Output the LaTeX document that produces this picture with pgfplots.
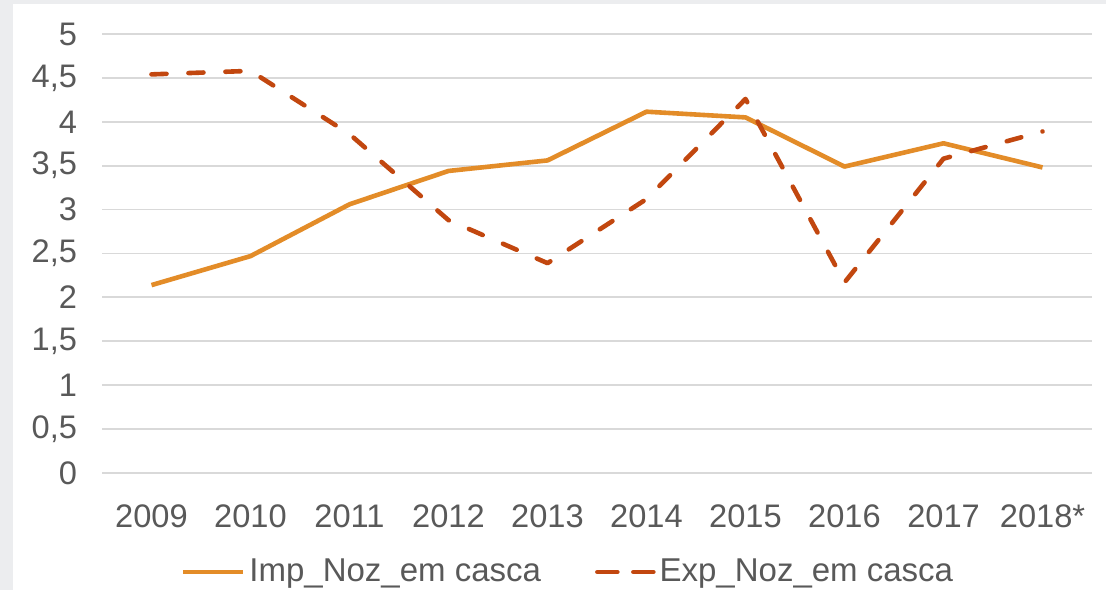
\documentclass[border=0pt]{standalone}
\usepackage{fontspec}
\setmainfont{Liberation Sans}
\usepackage{pgfplots}
\pgfplotsset{compat=1.18}
\definecolor{impc}{HTML}{E38C28}
\definecolor{expc}{HTML}{C2470F}
\definecolor{txt}{HTML}{595959}
\definecolor{grd}{HTML}{D9D9D9}
\definecolor{bgg}{HTML}{ECEDEF}
\pgfplotsset{
  implegend/.style={legend image code/.code={\draw[##1] (0bp,0bp) -- (30bp,0bp);}},
  explegend/.style={legend image code/.code={\draw[##1, dash pattern=on 10bp off 8bp] (2bp,0bp) -- (30bp,0bp);}},
}
\begin{document}
\begin{tikzpicture}
\fill[white] (0,0) rectangle (553bp,295bp);
\fill[bgg] (0,0) rectangle (6.5bp,295bp);
\fill[bgg] (0,293bp) rectangle (553bp,295bp);
\begin{axis}[
  at={(51bp,58.5bp)}, anchor=south west,
  scale only axis, width=495bp, height=219.5bp,
  xmin=-0.5, xmax=9.5, ymin=0, ymax=5,
  xtick={0,1,2,3,4,5,6,7,8,9},
  xticklabels={2009,2010,2011,2012,2013,2014,2015,2016,2017,2018*},
  ytick={0,0.5,1,1.5,2,2.5,3,3.5,4,4.5,5},
  /pgf/number format/assume math mode=true,
  /pgf/number format/use comma,
  yticklabel={\pgfmathprintnumber{\tick}},
  axis line style={draw=none},
  major tick length=0pt,
  ymajorgrids, grid style={grd, line width=0.9bp},
  tick label style={font=\fontsize{16.3bp}{19bp}\selectfont, text=txt},
  yticklabel style={xshift=-9bp},
  xticklabel style={yshift=-12.5bp},
  clip=false,
  legend columns=2,
  legend style={draw=none, fill=none, at={(0.4717,-0.2255)}, anchor=center,
    font=\fontsize{16.5bp}{19bp}\selectfont, text=txt,
    /tikz/every even column/.append style={column sep=25bp}},
  legend cell align=left,
]
\addplot[impc, line width=2.3bp, line join=round, implegend]
  coordinates {(0,2.14) (1,2.47) (2,3.06) (3,3.44) (4,3.56) (5,4.115) (6,4.05) (7,3.49) (8,3.755) (9,3.48)};
\addlegendentry{Imp\_Noz\_em casca}
\addplot[expc, line width=2.3bp, line cap=round, line join=round, dash pattern=on 7.5bp off 11bp, explegend]
  coordinates {(0,4.54) (1,4.58) (2,3.86) (3,2.88) (4,2.39) (5,3.12) (6,4.26) (7,2.17) (8,3.58) (9,3.89)};
\addlegendentry{Exp\_Noz\_em casca}
\end{axis}
\end{tikzpicture}
\end{document}
